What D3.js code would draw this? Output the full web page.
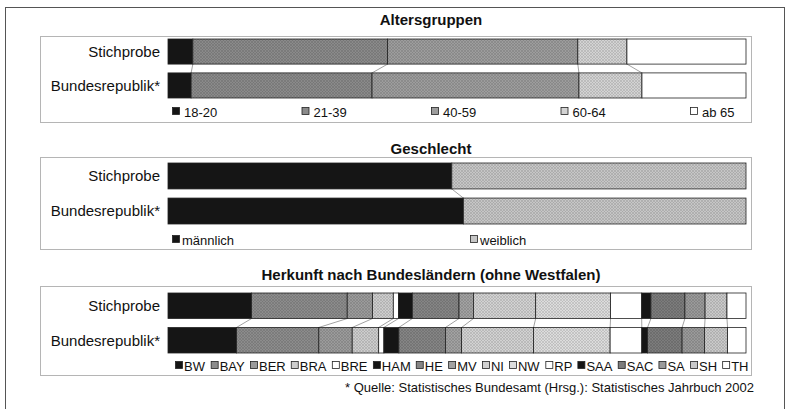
<!DOCTYPE html>
<html>
<head>
<meta charset="utf-8">
<script src="https://cdn.jsdelivr.net/npm/d3@7"></script>
<style>
  body { margin: 0; background: #fff; }
  text { font-family: "Liberation Sans", Arial, sans-serif; fill: #111; }
</style>
</head>
<body>
<svg id="chart" width="789" height="409"></svg>
<script>

// rows shared by all three panels
const rowLabels = ["Stichprobe", "Bundesrepublik*"]

// Altersgruppen (percent)
const ageGroups = ["18-20", "21-39", "40-59", "60-64", "ab 65"]
const ageSample = [4.3, 33.7, 32.9, 8.5, 20.6]
const ageFederal = [4.0, 31.3, 35.8, 10.9, 18.0]
const ageColors = ["#151515", "#8a8a8a", "#9d9d9d", "#d3d3d3", "#ffffff"]

// Geschlecht (percent)
const sexGroups = ["männlich", "weiblich"]
const sexSample = [49.1, 50.9]
const sexFederal = [51.1, 48.9]
const sexColors = ["#151515", "#c6c6c6"]

// Herkunft nach Bundesländern (percent)
const stateGroups = ["BW", "BAY", "BER", "BRA", "BRE", "HAM", "HE", "MV", "NI", "NW", "RP", "SAA", "SAC", "SA", "SH", "TH"]
const stateSample = [14.5, 16.6, 4.4, 3.6, 0.9, 2.4, 8.1, 2.5, 10.8, 13.0, 5.4, 1.6, 5.9, 3.5, 3.8, 3.3]
const stateFederal = [11.9, 14.3, 5.8, 4.6, 0.9, 2.6, 8.1, 2.8, 12.5, 13.3, 5.5, 1.0, 6.0, 3.9, 4.0, 3.2]
const stateColors = ["#151515", "#8c8c8c", "#9b9b9b", "#cdcdcd", "#ffffff", "#151515", "#858585", "#a2a2a2",
  "#d2d2d2", "#dcdcdc", "#ffffff", "#151515", "#7c7c7c", "#9a9a9a", "#c9c9c9", "#ffffff"]

const footnote = "* Quelle: Statistisches Bundesamt (Hrsg.): Statistisches Jahrbuch 2002"

const svg = d3.select("#chart")

// scanned-print texture for the grey fills
const defs = svg.append("defs")
const hatch = defs.append("pattern")
  .attr("id", "hatch")
  .attr("width", 3)
  .attr("height", 3)
  .attr("patternUnits", "userSpaceOnUse")
hatch.append("path")
  .attr("d", "M0,3 L3,0 M0,0 L3,3")
  .attr("stroke", "#000")
  .attr("stroke-width", 0.6)
  .attr("opacity", 0.18)

// outer frame
svg.append("rect")
  .attr("x", 5.5)
  .attr("y", 7.5)
  .attr("width", 779)
  .attr("height", 420)
  .attr("fill", "none")
  .attr("stroke", "#555")
  .attr("stroke-width", 1)

const plotLeft = 168
const plotRight = 746

function drawPanel(cfg) {

  const g = svg.append("g")

  g.append("text")
    .attr("x", 431)
    .attr("y", cfg.titleY)
    .attr("text-anchor", "middle")
    .style("font-size", "15px")
    .style("font-weight", "bold")
    .text(cfg.title)

  g.append("rect")
    .attr("x", 40.5)
    .attr("y", cfg.boxTop + 0.5)
    .attr("width", 711)
    .attr("height", cfg.boxBottom - cfg.boxTop)
    .attr("fill", "#fff")
    .attr("stroke", "#b5b5b5")

  const y = d3.scaleBand()
    .domain(rowLabels)
    .range([cfg.rowTop, cfg.rowBottom])
    .paddingInner(0.26)
    .paddingOuter(0)

  const rows = cfg.values.map((vals, r) => {
    const x = d3.scaleLinear().domain([0, d3.sum(vals)]).range([plotLeft, plotRight])
    const cum = d3.cumsum(vals)
    return vals.map((v, i) => ({ key: cfg.groups[i], row: rowLabels[r], x0: x(cum[i] - v), x1: x(cum[i]), i: i }))
  })

  // series lines between the two bars
  d3.range(1, cfg.groups.length).forEach(i => {
    g.append("line")
      .attr("x1", rows[0][i].x0)
      .attr("y1", y(rowLabels[0]) + y.bandwidth())
      .attr("x2", rows[1][i].x0)
      .attr("y2", y(rowLabels[1]))
      .attr("stroke", "#8a8a8a")
      .attr("stroke-width", 0.8)
  })

  rows.forEach(segs => {
    const bar = g.append("g")
    bar.selectAll("rect.seg")
      .data(segs)
      .join("rect")
      .attr("class", "seg")
      .attr("x", d => d.x0)
      .attr("y", d => y(d.row))
      .attr("width", d => d.x1 - d.x0)
      .attr("height", y.bandwidth())
      .attr("fill", d => cfg.colors[d.i])
      .attr("stroke", "#222")
      .attr("stroke-width", 0.8)

    bar.selectAll("rect.tex")
      .data(segs.filter(d => cfg.colors[d.i] != "#ffffff" && cfg.colors[d.i] != "#151515"))
      .join("rect")
      .attr("class", "tex")
      .attr("x", d => d.x0)
      .attr("y", d => y(d.row))
      .attr("width", d => d.x1 - d.x0)
      .attr("height", y.bandwidth())
      .attr("fill", "url(#hatch)")
  })

  g.selectAll("text.rowLabel")
    .data(rowLabels)
    .join("text")
    .attr("class", "rowLabel")
    .attr("x", 160)
    .attr("y", d => y(d) + y.bandwidth() / 2)
    .attr("dy", "0.36em")
    .attr("text-anchor", "end")
    .style("font-size", "15px")
    .text(d => d)

  // legend
  const items = g.selectAll("g.legendItem")
    .data(cfg.groups)
    .join("g")
    .attr("class", "legendItem")

  items.append("rect")
    .attr("x", 0.5)
    .attr("y", -4.5)
    .attr("width", 7)
    .attr("height", 7)
    .attr("fill", (d, i) => cfg.colors[i])
    .attr("stroke", "#222")
    .attr("stroke-width", 0.8)

  items.append("text")
    .attr("x", cfg.legendGap)
    .attr("y", 0)
    .attr("dy", "0.35em")
    .style("font-size", "13px")
    .text(d => d)

  if (cfg.legendMode == "columns") {
    const lx = d3.scalePoint().domain(cfg.groups).range(cfg.legendRange)
    items.attr("transform", d => `translate(${lx(d)},${cfg.legendY})`)
  } else {
    // flow layout, spread across the legend width
    const widths = []
    items.each(function () { widths.push(this.getBBox().width) })
    const free = (cfg.legendRange[1] - cfg.legendRange[0]) - d3.sum(widths)
    const gap = free / (widths.length - 1)
    let pos = cfg.legendRange[0]
    items.attr("transform", (d, i) => {
      const t = `translate(${pos},${cfg.legendY})`
      pos += widths[i] + gap
      return t
    })
  }
}

drawPanel({
  title: "Altersgruppen",
  groups: ageGroups,
  values: [ageSample, ageFederal],
  colors: ageColors,
  titleY: 25,
  boxTop: 36, boxBottom: 122,
  rowTop: 39, rowBottom: 98,
  legendY: 112, legendMode: "columns", legendRange: [172, 690], legendGap: 12
})

drawPanel({
  title: "Geschlecht",
  groups: sexGroups,
  values: [sexSample, sexFederal],
  colors: sexColors,
  titleY: 154,
  boxTop: 157, boxBottom: 249,
  rowTop: 163, rowBottom: 224,
  legendY: 240, legendMode: "columns", legendRange: [172, 470], legendGap: 10
})

drawPanel({
  title: "Herkunft nach Bundesländern (ohne Westfalen)",
  groups: stateGroups,
  values: [stateSample, stateFederal],
  colors: stateColors,
  titleY: 280,
  boxTop: 286, boxBottom: 375,
  rowTop: 293, rowBottom: 353,
  legendY: 366, legendMode: "flow", legendRange: [175, 748], legendGap: 9
})

svg.append("text")
  .attr("x", 754)
  .attr("y", 392)
  .attr("text-anchor", "end")
  .style("font-size", "13px")
  .text(footnote)

</script>
</body>
</html>
